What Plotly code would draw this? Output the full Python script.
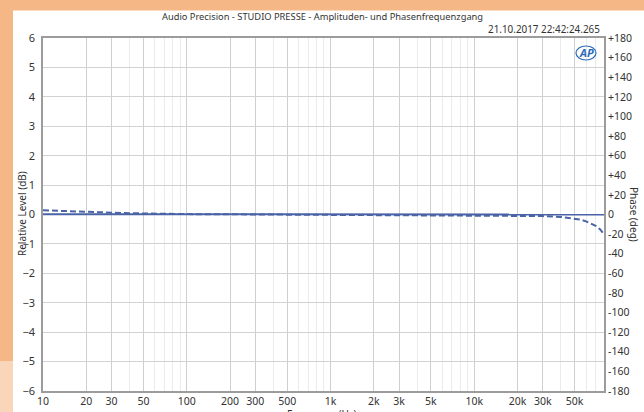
import plotly.graph_objects as go

# Measurement data: frequency (Hz), amplitude (dB) and phase (deg)
freq_hz = [10, 12, 15, 20, 25, 30, 40, 50, 70, 100, 150, 200, 300, 500, 700,
           1000, 2000, 3000, 5000, 7000, 10000, 15000, 20000, 30000, 40000,
           50000, 55000, 60000, 65000, 70000, 75000, 80000]
level_db = [0.01, 0.01, 0.01, 0.01, 0.01, 0.01, 0.0, 0.0, 0.0, 0.0, 0.0, 0.0,
            0.0, 0.0, 0.0, 0.0, 0.0, 0.0, 0.0, 0.0, 0.01, 0.01, 0.01, 0.0, 0.0,
            0.0, 0.0, 0.0, 0.0, 0.0, 0.0, 0.0]
phase_deg = [4.3, 3.8, 3.2, 2.6, 2.2, 1.9, 1.3, 0.9, 0.6, 0.4, 0.3, 0.2, 0.1,
             0.1, 0.0, 0.0, -0.1, -0.2, -0.3, -0.4, -0.6, -0.8, -1.0, -1.6,
             -2.5, -4.0, -5.2, -7.0, -9.0, -11.5, -15.0, -20.0]

x_major = [10, 20, 30, 50, 100, 200, 300, 500, 1000, 2000, 3000, 5000,
           10000, 20000, 30000, 50000]
x_major_text = ["10", "20", "30", "50", "100", "200", "300", "500", "1k",
                "2k", "3k", "5k", "10k", "20k", "30k", "50k"]
x_minor = [40, 60, 70, 80, 90, 400, 600, 700, 800, 900, 4000, 6000, 7000,
           8000, 9000, 40000, 60000, 70000]
level_ticks = list(range(-6, 7))
phase_ticks = list(range(-180, 181, 20))
phase_text = [("+%d" % v) if v > 0 else str(v) for v in phase_ticks]

W, H = 644, 412
L, R, T, B = 43, 40, 38, 21
pw, ph = W - L - R, H - T - B


def px(xp):
    return (xp - L) / pw


def py(yp):
    return (H - B - yp) / ph


LINE = "#4a63a6"
FONT = "Noto Sans"
TXT = "#333333"

fig = go.Figure()
fig.add_trace(go.Scatter(x=freq_hz, y=level_db, mode="lines",
                         line=dict(color=LINE, width=2), yaxis="y",
                         showlegend=False))
fig.add_trace(go.Scatter(x=freq_hz, y=phase_deg, mode="lines",
                         line=dict(color=LINE, width=2, dash="6px,3px"),
                         yaxis="y2", showlegend=False))

ORANGE = "#f5b785"
PEACH = "#f9d5b9"
shapes = [
    dict(type="rect", xref="paper", yref="paper", x0=px(0), x1=px(W),
         y0=py(0), y1=py(10.5), fillcolor=ORANGE, line_width=0, layer="below"),
    dict(type="rect", xref="paper", yref="paper", x0=px(0), x1=px(13),
         y0=py(0), y1=py(361), fillcolor=ORANGE, line_width=0, layer="below"),
    dict(type="rect", xref="paper", yref="paper", x0=px(0), x1=px(13),
         y0=py(361), y1=py(H), fillcolor=PEACH, line_width=0, layer="below"),
    # logo ring
    dict(type="circle", xref="paper", yref="paper", x0=px(576), x1=px(596),
         y0=py(60), y1=py(46), line=dict(color="#2a6cb8", width=1.2)),
]

annotations = [
    dict(text="Audio Precision - STUDIO PRESSE - Amplituden- und Phasenfrequenzgang",
         xref="paper", yref="paper", x=px(322), y=py(17), showarrow=False,
         xanchor="center", yanchor="middle", font=dict(family=FONT, size=9.3, color=TXT)),
    dict(text="21.10.2017 22:42:24.265", xref="paper", yref="paper",
         x=px(602), y=py(29), showarrow=False, xanchor="right", yanchor="middle",
         font=dict(family=FONT, size=9.9, color=TXT)),
    dict(text="<b><i>AP</i></b>", xref="paper", yref="paper", x=px(586),
         y=py(53), showarrow=False, xanchor="center", yanchor="middle",
         font=dict(family=FONT, size=11, color="#2a6cb8")),
    dict(text="Relative Level (dB)", xref="paper", yref="paper", x=px(22),
         y=py(214), showarrow=False, xanchor="center", yanchor="middle",
         textangle=-90, font=dict(family=FONT, size=10, color=TXT)),
    dict(text="Phase (deg)", xref="paper", yref="paper", x=px(634),
         y=py(214), showarrow=False, xanchor="center", yanchor="middle",
         textangle=90, font=dict(family=FONT, size=10, color=TXT)),
    dict(text="Frequency (Hz)", xref="paper", yref="paper", x=px(322),
         y=py(405), showarrow=False, xanchor="center", yanchor="top",
         font=dict(family=FONT, size=10, color=TXT)),
]

fig.update_layout(
    width=W, height=H,
    margin=dict(l=L, r=R, t=T, b=B, pad=0, autoexpand=False),
    paper_bgcolor="white", plot_bgcolor="white",
    shapes=shapes, annotations=annotations,
    xaxis=dict(type="log", range=[1, 4.90309], tickmode="array",
               tickvals=x_major, ticktext=x_major_text, automargin=False,
               showgrid=True, gridcolor="#cfcfcf", gridwidth=1,
               minor=dict(tickmode="array", tickvals=x_minor, showgrid=True,
                          gridcolor="#ebebeb", gridwidth=1, ticks=""),
               showline=True, linecolor="#9c9c9c", linewidth=1.5, mirror=True,
               ticks="", zeroline=False,
               tickfont=dict(family=FONT, size=10.5, color=TXT)),
    yaxis=dict(range=[-6, 6], tickmode="array", tickvals=level_ticks,
               showgrid=True, gridcolor="#d2d2d2", gridwidth=1, automargin=False,
               showline=True, linecolor="#9c9c9c", linewidth=1.5, mirror=True,
               ticks="", zeroline=False, ticklabelstandoff=4,
               tickfont=dict(family=FONT, size=11, color=TXT)),
    yaxis2=dict(range=[-180, 180], overlaying="y", side="right",
                tickmode="array", tickvals=phase_ticks, ticktext=phase_text,
                showgrid=False, zeroline=False, showline=False, ticks="",
                ticklabelstandoff=3, automargin=False,
                tickfont=dict(family=FONT, size=10.5, color=TXT)),
)

fig.write_html("out.html")
